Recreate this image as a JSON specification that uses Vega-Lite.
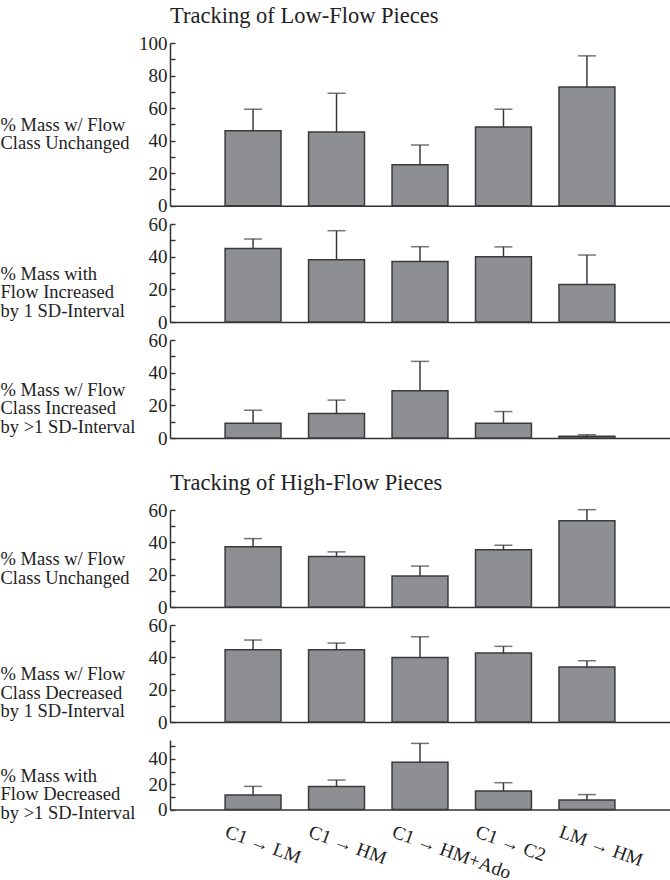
{
  "$schema": "https://vega.github.io/schema/vega-lite/v6.json",
  "padding": {"left": 0, "top": 4, "right": 0, "bottom": 0},
  "background": "white",
  "datasets": {
    "bars": [
      {"p": 1, "c": "C1 → LM", "m": 46, "u": 59.3},
      {"p": 1, "c": "C1 → HM", "m": 45.3, "u": 69.1},
      {"p": 1, "c": "C1 → HM+Ado", "m": 25.2, "u": 37.3},
      {"p": 1, "c": "C1 → C2", "m": 48.4, "u": 59.3},
      {"p": 1, "c": "LM → HM", "m": 73, "u": 92.1},
      {"p": 2, "c": "C1 → LM", "m": 45, "u": 50.8},
      {"p": 2, "c": "C1 → HM", "m": 38.1, "u": 55.9},
      {"p": 2, "c": "C1 → HM+Ado", "m": 37, "u": 46.1},
      {"p": 2, "c": "C1 → C2", "m": 40, "u": 46},
      {"p": 2, "c": "LM → HM", "m": 22.9, "u": 41},
      {"p": 3, "c": "C1 → LM", "m": 9, "u": 17},
      {"p": 3, "c": "C1 → HM", "m": 15, "u": 23.2},
      {"p": 3, "c": "C1 → HM+Ado", "m": 28.9, "u": 46.9},
      {"p": 3, "c": "C1 → C2", "m": 9, "u": 16.2},
      {"p": 3, "c": "LM → HM", "m": 1, "u": 2},
      {"p": 4, "c": "C1 → LM", "m": 37.2, "u": 42.3},
      {"p": 4, "c": "C1 → HM", "m": 31.2, "u": 34.1},
      {"p": 4, "c": "C1 → HM+Ado", "m": 19.1, "u": 25.3},
      {"p": 4, "c": "C1 → C2", "m": 35.4, "u": 38.2},
      {"p": 4, "c": "LM → HM", "m": 53.4, "u": 60.2},
      {"p": 5, "c": "C1 → LM", "m": 44.7, "u": 50.7},
      {"p": 5, "c": "C1 → HM", "m": 44.7, "u": 48.8},
      {"p": 5, "c": "C1 → HM+Ado", "m": 39.9, "u": 52.7},
      {"p": 5, "c": "C1 → C2", "m": 42.7, "u": 46.8},
      {"p": 5, "c": "LM → HM", "m": 34, "u": 37.9},
      {"p": 6, "c": "C1 → LM", "m": 11.5, "u": 18.3},
      {"p": 6, "c": "C1 → HM", "m": 18.3, "u": 23.3},
      {"p": 6, "c": "C1 → HM+Ado", "m": 37.4, "u": 52.3},
      {"p": 6, "c": "C1 → C2", "m": 14.7, "u": 21.2},
      {"p": 6, "c": "LM → HM", "m": 7.6, "u": 11.8}
    ]
  },
  "data": {"name": "bars"},
  "bounds": "flush",
  "spacing": 18,
  "vconcat": [
    {
      "width": 500, "height": 162.7,
      "title": {"text": "Tracking of Low-Flow Pieces"},
      "transform": [{"filter": "datum.p == 1"}],
      "encoding": {"x": {"field": "c", "type": "nominal", "sort": null, "scale": {"paddingInner": 0.33, "paddingOuter": 0.66}, "axis": {"labels": false, "title": null}}},
      "layer": [
        {"mark": {"type": "bar", "fill": "#8e8f93", "stroke": "#3a3a3a", "strokeWidth": 1.5},
         "encoding": {"y": {"field": "m", "type": "quantitative", "scale": {"domain": [0, 100], "nice": false},
           "axis": {"values": [0, 10, 20, 30, 40, 50, 60, 70, 80, 90, 100], "labelExpr": "datum.value % 20 === 0 ? datum.label : ''", "labelOverlap": false, "tickSize": -5, "title": ["% Mass w/ Flow", "Class Unchanged"], "titleY": 81}}}},
        {"mark": {"type": "rule", "color": "#3a3a3a", "strokeWidth": 1.5},
         "encoding": {"y": {"field": "m", "type": "quantitative",
           "axis": {"values": [0, 10, 20, 30, 40, 50, 60, 70, 80, 90, 100], "labelExpr": "datum.value % 20 === 0 ? datum.label : ''", "labelOverlap": false, "tickSize": -5, "title": ["% Mass w/ Flow", "Class Unchanged"], "titleY": 81}}, "y2": {"field": "u"}}},
        {"mark": {"type": "tick", "color": "#3a3a3a", "thickness": 1.5, "size": 18},
         "encoding": {"y": {"field": "u", "type": "quantitative",
           "axis": {"values": [0, 10, 20, 30, 40, 50, 60, 70, 80, 90, 100], "labelExpr": "datum.value % 20 === 0 ? datum.label : ''", "labelOverlap": false, "tickSize": -5, "title": ["% Mass w/ Flow", "Class Unchanged"], "titleY": 81}}}}
      ]
    },
    {
      "width": 500, "height": 98,
      "transform": [{"filter": "datum.p == 2"}],
      "encoding": {"x": {"field": "c", "type": "nominal", "sort": null, "scale": {"paddingInner": 0.33, "paddingOuter": 0.66}, "axis": {"labels": false, "title": null}}},
      "layer": [
        {"mark": {"type": "bar", "fill": "#8e8f93", "stroke": "#3a3a3a", "strokeWidth": 1.5},
         "encoding": {"y": {"field": "m", "type": "quantitative", "scale": {"domain": [0, 60], "nice": false},
           "axis": {"values": [0, 10, 20, 30, 40, 50, 60], "labelExpr": "datum.value % 20 === 0 ? datum.label : ''", "labelOverlap": false, "tickSize": -5, "title": ["% Mass with", "Flow Increased", "by 1 SD-Interval"], "titleY": 49}}}},
        {"mark": {"type": "rule", "color": "#3a3a3a", "strokeWidth": 1.5},
         "encoding": {"y": {"field": "m", "type": "quantitative",
           "axis": {"values": [0, 10, 20, 30, 40, 50, 60], "labelExpr": "datum.value % 20 === 0 ? datum.label : ''", "labelOverlap": false, "tickSize": -5, "title": ["% Mass with", "Flow Increased", "by 1 SD-Interval"], "titleY": 49}}, "y2": {"field": "u"}}},
        {"mark": {"type": "tick", "color": "#3a3a3a", "thickness": 1.5, "size": 18},
         "encoding": {"y": {"field": "u", "type": "quantitative",
           "axis": {"values": [0, 10, 20, 30, 40, 50, 60], "labelExpr": "datum.value % 20 === 0 ? datum.label : ''", "labelOverlap": false, "tickSize": -5, "title": ["% Mass with", "Flow Increased", "by 1 SD-Interval"], "titleY": 49}}}}
      ]
    },
    {
      "width": 500, "height": 98,
      "transform": [{"filter": "datum.p == 3"}],
      "encoding": {"x": {"field": "c", "type": "nominal", "sort": null, "scale": {"paddingInner": 0.33, "paddingOuter": 0.66}, "axis": {"labels": false, "title": null}}},
      "layer": [
        {"mark": {"type": "bar", "fill": "#8e8f93", "stroke": "#3a3a3a", "strokeWidth": 1.5},
         "encoding": {"y": {"field": "m", "type": "quantitative", "scale": {"domain": [0, 60], "nice": false},
           "axis": {"values": [0, 10, 20, 30, 40, 50, 60], "labelExpr": "datum.value % 20 === 0 ? datum.label : ''", "labelOverlap": false, "tickSize": -5, "title": ["% Mass w/ Flow", "Class Increased", "by >1 SD-Interval"], "titleY": 49}}}},
        {"mark": {"type": "rule", "color": "#3a3a3a", "strokeWidth": 1.5},
         "encoding": {"y": {"field": "m", "type": "quantitative",
           "axis": {"values": [0, 10, 20, 30, 40, 50, 60], "labelExpr": "datum.value % 20 === 0 ? datum.label : ''", "labelOverlap": false, "tickSize": -5, "title": ["% Mass w/ Flow", "Class Increased", "by >1 SD-Interval"], "titleY": 49}}, "y2": {"field": "u"}}},
        {"mark": {"type": "tick", "color": "#3a3a3a", "thickness": 1.5, "size": 18},
         "encoding": {"y": {"field": "u", "type": "quantitative",
           "axis": {"values": [0, 10, 20, 30, 40, 50, 60], "labelExpr": "datum.value % 20 === 0 ? datum.label : ''", "labelOverlap": false, "tickSize": -5, "title": ["% Mass w/ Flow", "Class Increased", "by >1 SD-Interval"], "titleY": 49}}}}
      ]
    },
    {
      "width": 500, "height": 36,
      "data": {"values": [{"t": ""}]},
      "mark": {"type": "text"},
      "encoding": {"text": {"field": "t"}}
    },
    {
      "width": 500, "height": 97,
      "title": {"text": "Tracking of High-Flow Pieces"},
      "transform": [{"filter": "datum.p == 4"}],
      "encoding": {"x": {"field": "c", "type": "nominal", "sort": null, "scale": {"paddingInner": 0.33, "paddingOuter": 0.66}, "axis": {"labels": false, "title": null}}},
      "layer": [
        {"mark": {"type": "bar", "fill": "#8e8f93", "stroke": "#3a3a3a", "strokeWidth": 1.5},
         "encoding": {"y": {"field": "m", "type": "quantitative", "scale": {"domain": [0, 60], "nice": false},
           "axis": {"values": [0, 10, 20, 30, 40, 50, 60], "labelExpr": "datum.value % 20 === 0 ? datum.label : ''", "labelOverlap": false, "tickSize": -5, "title": ["% Mass w/ Flow", "Class Unchanged"], "titleY": 48.5}}}},
        {"mark": {"type": "rule", "color": "#3a3a3a", "strokeWidth": 1.5},
         "encoding": {"y": {"field": "m", "type": "quantitative",
           "axis": {"values": [0, 10, 20, 30, 40, 50, 60], "labelExpr": "datum.value % 20 === 0 ? datum.label : ''", "labelOverlap": false, "tickSize": -5, "title": ["% Mass w/ Flow", "Class Unchanged"], "titleY": 48.5}}, "y2": {"field": "u"}}},
        {"mark": {"type": "tick", "color": "#3a3a3a", "thickness": 1.5, "size": 18},
         "encoding": {"y": {"field": "u", "type": "quantitative",
           "axis": {"values": [0, 10, 20, 30, 40, 50, 60], "labelExpr": "datum.value % 20 === 0 ? datum.label : ''", "labelOverlap": false, "tickSize": -5, "title": ["% Mass w/ Flow", "Class Unchanged"], "titleY": 48.5}}}}
      ]
    },
    {
      "width": 500, "height": 97,
      "transform": [{"filter": "datum.p == 5"}],
      "encoding": {"x": {"field": "c", "type": "nominal", "sort": null, "scale": {"paddingInner": 0.33, "paddingOuter": 0.66}, "axis": {"labels": false, "title": null}}},
      "layer": [
        {"mark": {"type": "bar", "fill": "#8e8f93", "stroke": "#3a3a3a", "strokeWidth": 1.5},
         "encoding": {"y": {"field": "m", "type": "quantitative", "scale": {"domain": [0, 60], "nice": false},
           "axis": {"values": [0, 10, 20, 30, 40, 50, 60], "labelExpr": "datum.value % 20 === 0 ? datum.label : ''", "labelOverlap": false, "tickSize": -5, "title": ["% Mass w/ Flow", "Class Decreased", "by 1 SD-Interval"], "titleY": 48.5}}}},
        {"mark": {"type": "rule", "color": "#3a3a3a", "strokeWidth": 1.5},
         "encoding": {"y": {"field": "m", "type": "quantitative",
           "axis": {"values": [0, 10, 20, 30, 40, 50, 60], "labelExpr": "datum.value % 20 === 0 ? datum.label : ''", "labelOverlap": false, "tickSize": -5, "title": ["% Mass w/ Flow", "Class Decreased", "by 1 SD-Interval"], "titleY": 48.5}}, "y2": {"field": "u"}}},
        {"mark": {"type": "tick", "color": "#3a3a3a", "thickness": 1.5, "size": 18},
         "encoding": {"y": {"field": "u", "type": "quantitative",
           "axis": {"values": [0, 10, 20, 30, 40, 50, 60], "labelExpr": "datum.value % 20 === 0 ? datum.label : ''", "labelOverlap": false, "tickSize": -5, "title": ["% Mass w/ Flow", "Class Decreased", "by 1 SD-Interval"], "titleY": 48.5}}}}
      ]
    },
    {
      "width": 500, "height": 69.5,
      "transform": [{"filter": "datum.p == 6"}],
      "encoding": {"x": {"field": "c", "type": "nominal", "sort": null, "scale": {"paddingInner": 0.33, "paddingOuter": 0.66},
        "axis": {"labels": true, "title": null, "labelAngle": 20, "labelAlign": "left", "labelBaseline": "middle", "labelPadding": 21, "labelOffset": -27, "labelOverlap": false, "labelBound": false, "labelFontSize": 19}}},
      "layer": [
        {"mark": {"type": "bar", "fill": "#8e8f93", "stroke": "#3a3a3a", "strokeWidth": 1.5},
         "encoding": {"y": {"field": "m", "type": "quantitative", "scale": {"domain": [0, 55], "nice": false},
           "axis": {"values": [0, 10, 20, 30, 40, 50], "labelExpr": "datum.value % 20 === 0 ? datum.label : ''", "labelOverlap": false, "tickSize": -5, "title": ["% Mass with", "Flow Decreased", "by >1 SD-Interval"], "titleY": 35}}}},
        {"mark": {"type": "rule", "color": "#3a3a3a", "strokeWidth": 1.5},
         "encoding": {"y": {"field": "m", "type": "quantitative",
           "axis": {"values": [0, 10, 20, 30, 40, 50], "labelExpr": "datum.value % 20 === 0 ? datum.label : ''", "labelOverlap": false, "tickSize": -5, "title": ["% Mass with", "Flow Decreased", "by >1 SD-Interval"], "titleY": 35}}, "y2": {"field": "u"}}},
        {"mark": {"type": "tick", "color": "#3a3a3a", "thickness": 1.5, "size": 18},
         "encoding": {"y": {"field": "u", "type": "quantitative",
           "axis": {"values": [0, 10, 20, 30, 40, 50], "labelExpr": "datum.value % 20 === 0 ? datum.label : ''", "labelOverlap": false, "tickSize": -5, "title": ["% Mass with", "Flow Decreased", "by >1 SD-Interval"], "titleY": 35}}}}
      ]
    }
  ],
  "config": {
    "view": {"stroke": null},
    "font": "Liberation Serif",
    "title": {"anchor": "start", "frame": "group", "fontSize": 22.5, "font": "Liberation Serif", "fontWeight": "normal", "color": "#222", "offset": 7},
    "axis": {
      "grid": false,
      "labelFont": "Liberation Serif",
      "labelFontSize": 19,
      "labelColor": "#222",
      "labelOverlap": false,
      "domainColor": "#333",
      "domainWidth": 1.5,
      "tickColor": "#333",
      "tickWidth": 1.4,
      "titleFont": "Liberation Serif",
      "titleFontWeight": "normal",
      "titleColor": "#222"
    },
    "axisX": {"ticks": false},
    "axisY": {
      "labelPadding": 8,
      "titleAngle": 0,
      "titleAlign": "left",
      "titleBaseline": "middle",
      "titleX": -170,
      "titleFontSize": 18.5,
      "titleLineHeight": 18.5
    }
  }
}
